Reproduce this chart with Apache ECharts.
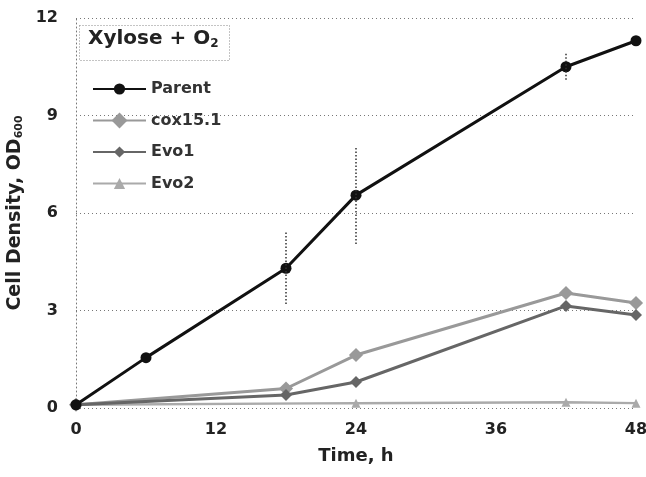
<!DOCTYPE html>
<html><head><meta charset="utf-8">
<script src="https://cdn.jsdelivr.net/npm/echarts@6/dist/echarts.min.js"></script>
<style>html,body{margin:0;padding:0;background:#fff}#c{width:646px;height:477px}</style>
</head><body><div id="c"></div>
<script>
var xTicks = [0, 12, 24, 36, 48];
var yTicks = [0, 3, 6, 9, 12];
var parentX = [0, 6, 18, 24, 42, 48];
var parentY = [0.1, 1.55, 4.3, 6.55, 10.5, 11.3];
var parentErrX = [18, 24, 42];
var parentErr = [1.1, 1.5, 0.4];
var coxX = [0, 18, 24, 42, 48];
var coxY = [0.1, 0.6, 1.63, 3.54, 3.23];
var evo1X = [0, 18, 24, 42, 48];
var evo1Y = [0.1, 0.4, 0.8, 3.14, 2.86];
var evo2X = [0, 24, 42, 48];
var evo2Y = [0.1, 0.15, 0.18, 0.15];
var seriesNames = ['Parent', 'cox15.1', 'Evo1', 'Evo2'];

function pairs(xs, ys) { return xs.map(function (x, i) { return [x, ys[i]]; }); }
function errData(xs, es) {
  return xs.map(function (x, k) {
    var i = parentX.indexOf(x); var e = es[k];
    return [x, parentY[i] - e, parentY[i] + e];
  });
}

var font = '"DejaVu Sans", Arial, sans-serif';
var chart = echarts.init(document.getElementById('c'));
chart.setOption({
  animation: false,
  textStyle: { fontFamily: font },
  grid: { left: 76, right: 10, top: 18, bottom: 69, containLabel: false, outerBoundsMode: 'none' },
  graphic: [{
    type: 'rect', left: 77, top: 23,
    shape: { width: 150, height: 35 },
    style: { fill: 'none', stroke: '#888', lineWidth: 1, lineDash: [1, 2] }
  }, {
    type: 'text', left: 88, top: 29,
    style: {
      text: 'Xylose + O{s|2}',
      rich: { s: { fontSize: 12, fontWeight: 'bold', fill: '#222', padding: [10, 0, 0, 0], fontFamily: font } },
      fontSize: 20, fontWeight: 'bold', fill: '#222', fontFamily: font
    }
  }],
  legend: {
    orient: 'vertical', left: 87, top: 76,
    itemWidth: 53, itemHeight: 14, itemGap: 15.5,
    data: seriesNames,
    textStyle: { fontSize: 16, fontWeight: 'bold', color: '#333', fontFamily: font }
  },
  xAxis: {
    type: 'value', min: 0, max: 48, interval: 12,
    name: 'Time, h', nameLocation: 'middle', nameGap: 39,
    nameTextStyle: { fontSize: 18, fontWeight: 'bold', color: '#222' },
    axisLine: { show: false }, axisTick: { show: false },
    splitLine: { show: false },
    axisLabel: { fontSize: 16, fontWeight: 'bold', color: '#222', margin: 14,
      formatter: function (v) { return xTicks.indexOf(v) >= 0 ? String(v) : ''; } }
  },
  yAxis: {
    type: 'value', min: 0, max: 12, interval: 3,
    name: 'Cell Density, OD{s|600}', nameLocation: 'middle', nameGap: 39,
    nameTextStyle: { fontSize: 19, fontWeight: 'bold', color: '#222',
      rich: { s: { fontSize: 11, fontWeight: 'bold', color: '#222', padding: [0, 0, -9, 0] } } },
    axisLine: { show: true, lineStyle: { color: '#777', type: [1, 3], width: 1 } },
    axisTick: { show: false },
    splitLine: { show: true, lineStyle: { color: '#777', type: [1, 3], width: 1 } },
    axisLabel: { fontSize: 16, fontWeight: 'bold', color: '#222', margin: 18,
      formatter: function (v) { return yTicks.indexOf(v) >= 0 ? String(v) : ''; } }
  },
  series: [{
    name: 'Parent', type: 'line', data: pairs(parentX, parentY),
    symbol: 'circle', symbolSize: 11, z: 5,
    lineStyle: { color: '#111', width: 3 }, itemStyle: { color: '#111' }
  }, {
    name: 'cox15.1', type: 'line', data: pairs(coxX, coxY),
    symbol: 'rect', symbolSize: 10, symbolRotate: 45, z: 3,
    lineStyle: { color: '#999', width: 3 }, itemStyle: { color: '#999' }
  }, {
    name: 'Evo1', type: 'line', data: pairs(evo1X, evo1Y),
    symbol: 'diamond', symbolSize: 12, z: 4,
    lineStyle: { color: '#666', width: 3 }, itemStyle: { color: '#666' }
  }, {
    name: 'Evo2', type: 'line', data: pairs(evo2X, evo2Y),
    symbol: 'triangle', symbolSize: 9, z: 2,
    lineStyle: { color: '#aaa', width: 2.5 }, itemStyle: { color: '#aaa' }
  }, {
    name: 'err', type: 'custom', z: 6, silent: true,
    data: errData(parentErrX, parentErr),
    renderItem: function (params, api) {
      var lo = api.coord([api.value(0), api.value(1)]);
      var hi = api.coord([api.value(0), api.value(2)]);
      return { type: 'line', shape: { x1: lo[0], y1: lo[1], x2: hi[0], y2: hi[1] },
        style: { stroke: '#333', lineWidth: 1.5, lineDash: [1.5, 2] } };
    }
  }]
});
</script></body></html>
